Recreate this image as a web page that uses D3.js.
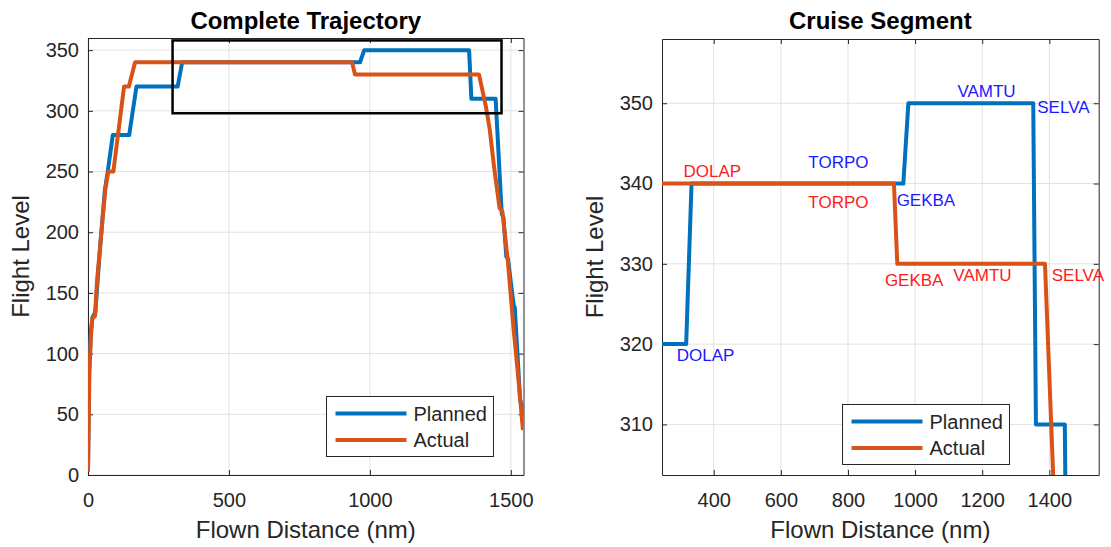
<!DOCTYPE html>
<html>
<head>
<meta charset="utf-8">
<script src="https://cdn.jsdelivr.net/npm/d3@7"></script>
<style>
  html, body { margin: 0; padding: 0; background: #fff; }
  svg { display: block; font-family: "Liberation Sans", Arial, Helvetica, sans-serif; }
</style>
</head>
<body>
<svg id="chart" width="1111" height="547"></svg>
<script>
// Flight profile: planned vs. actual flight level along the flown distance
const plannedDist = [0, 4, 10, 16, 26, 42, 60, 70, 88, 146, 172, 318, 334, 965, 980, 1352, 1360, 1446, 1468, 1474, 1484, 1490, 1510, 1514, 1533, 1545];
const plannedFL   = [3, 85, 118, 130, 134, 185, 235, 250, 280, 280, 320, 320, 340, 340, 350, 350, 310, 310, 215, 212, 180, 178, 140, 138, 62, 52];

const actualDist = [0, 5, 10, 15, 25, 32, 42, 52, 62, 72, 90, 128, 145, 167, 937, 947, 1387, 1412, 1425, 1440, 1460, 1470, 1490, 1510, 1525, 1543];
const actualFL   = [3, 85, 112, 129, 131, 160, 185, 212, 236, 250, 250, 320, 320, 340, 340, 330, 330, 303, 285, 255, 220, 217, 175, 120, 84, 37];

// Waypoint names and where each one is labelled (distance, flight level)
const waypointNames    = ["DOLAP", "TORPO", "GEKBA", "VAMTU", "SELVA"];
const plannedLabelDist = [290, 682, 945, 1126, 1364];
const plannedLabelFL   = [318.6, 342.7, 338.0, 351.5, 349.5];
const actualLabelDist  = [310, 682, 910, 1114, 1407];
const actualLabelFL    = [341.6, 337.7, 328.0, 328.6, 328.6];

// Cruise window outlined on the full trajectory
const cruiseBoxDist = [300, 1467];
const cruiseBoxFL   = [298, 358];

// Axis limits and ticks
const fullDistDomain = [0, 1545];
const fullFLDomain   = [0, 360];
const fullDistTicks  = [0, 500, 1000, 1500];
const fullFLTicks    = [0, 50, 100, 150, 200, 250, 300, 350];

const cruiseDistDomain = [246, 1547];
const cruiseFLDomain   = [303.7, 358];
const cruiseDistTicks  = [400, 600, 800, 1000, 1200, 1400];
const cruiseFLTicks    = [310, 320, 330, 340, 350];

const seriesNames = ["Planned", "Actual"];

const BLUE = "#0072BD", ORANGE = "#D95319";
const AXIS = "#262626", GRID = "#e2e2e2";

const planned = plannedDist.map((d, i) => ({ d, fl: plannedFL[i] }));
const actual  = actualDist.map((d, i) => ({ d, fl: actualFL[i] }));

const svg = d3.select("#chart");
const fmt = d3.format("d");

function panel(cfg) {
  const x = d3.scaleLinear().domain(cfg.xDomain).range([cfg.left, cfg.right]);
  const y = d3.scaleLinear().domain(cfg.yDomain).range([cfg.bottom, cfg.top]);
  const g = svg.append("g");

  const clipId = "clip-" + cfg.id;
  svg.append("defs").append("clipPath").attr("id", clipId)
    .append("rect")
    .attr("x", cfg.left).attr("y", cfg.top)
    .attr("width", cfg.right - cfg.left).attr("height", cfg.bottom - cfg.top);

  // grid
  g.append("g").selectAll("line").data(cfg.xTicks).join("line")
    .attr("x1", d => x(d)).attr("x2", d => x(d))
    .attr("y1", cfg.top).attr("y2", cfg.bottom)
    .attr("stroke", GRID).attr("stroke-width", 1);
  g.append("g").selectAll("line").data(cfg.yTicks).join("line")
    .attr("y1", d => y(d)).attr("y2", d => y(d))
    .attr("x1", cfg.left).attr("x2", cfg.right)
    .attr("stroke", GRID).attr("stroke-width", 1);

  // axes (ticks inward on all four sides)
  const tl = 5;
  const bottomAxis = d3.axisBottom(x).tickValues(cfg.xTicks).tickFormat(fmt).tickSizeInner(-tl).tickSizeOuter(0).tickPadding(tl + 13);
  const topAxis    = d3.axisTop(x).tickValues(cfg.xTicks).tickSizeInner(-tl).tickSizeOuter(0).tickFormat("");
  const leftAxis   = d3.axisLeft(y).tickValues(cfg.yTicks).tickFormat(fmt).tickSizeInner(-tl).tickSizeOuter(0).tickPadding(tl + 4);
  const rightAxis  = d3.axisRight(y).tickValues(cfg.yTicks).tickSizeInner(-tl).tickSizeOuter(0).tickFormat("");

  const styleAxis = sel => {
    sel.selectAll("path").attr("stroke", AXIS).attr("stroke-width", 1);
    sel.selectAll("line").attr("stroke", AXIS).attr("stroke-width", 1);
    sel.selectAll("text").attr("fill", AXIS).style("font-size", "20px")
      .style("font-family", '"Liberation Sans", Arial, sans-serif');
  };
  g.append("g").attr("transform", `translate(0,${cfg.bottom})`).call(bottomAxis).call(styleAxis);
  g.append("g").attr("transform", `translate(0,${cfg.top})`).call(topAxis).call(styleAxis);
  g.append("g").attr("transform", `translate(${cfg.left},0)`).call(leftAxis).call(styleAxis);
  g.append("g").attr("transform", `translate(${cfg.right},0)`).call(rightAxis).call(styleAxis);

  // lines
  const line = d3.line().x(p => x(p.d)).y(p => y(p.fl));
  const lines = g.append("g").attr("clip-path", `url(#${clipId})`);
  lines.append("path").datum(planned).attr("d", line)
    .attr("fill", "none").attr("stroke", BLUE).attr("stroke-width", 4).attr("stroke-linejoin", "round");
  lines.append("path").datum(actual).attr("d", line)
    .attr("fill", "none").attr("stroke", ORANGE).attr("stroke-width", 4).attr("stroke-linejoin", "round");

  // titles and labels
  const cx = (cfg.left + cfg.right) / 2;
  svg.append("text").attr("x", cx).attr("y", 29).attr("text-anchor", "middle")
    .style("font-size", "24px").style("font-weight", "bold").attr("fill", "#000").text(cfg.title);
  svg.append("text").attr("x", cx).attr("y", 538).attr("text-anchor", "middle")
    .style("font-size", "24px").attr("fill", AXIS).text("Flown Distance (nm)");
  svg.append("text")
    .attr("transform", `translate(${cfg.ylabelX},${(cfg.top + cfg.bottom) / 2}) rotate(-90)`)
    .attr("text-anchor", "middle")
    .style("font-size", "24px").attr("fill", AXIS).text("Flight Level");

  return { g, x, y };
}

// ---- Complete trajectory ----
const full = panel({
  id: "full", title: "Complete Trajectory",
  left: 88, right: 523.5, top: 38, bottom: 475, ylabelX: 29,
  xDomain: fullDistDomain, yDomain: fullFLDomain,
  xTicks: fullDistTicks, yTicks: fullFLTicks
});

full.g.append("rect")
  .attr("x", full.x(cruiseBoxDist[0])).attr("y", full.y(cruiseBoxFL[1]))
  .attr("width", full.x(cruiseBoxDist[1]) - full.x(cruiseBoxDist[0]))
  .attr("height", full.y(cruiseBoxFL[0]) - full.y(cruiseBoxFL[1]))
  .attr("fill", "none").attr("stroke", "#000").attr("stroke-width", 2.5);

// ---- Cruise segment ----
const cruise = panel({
  id: "cruise", title: "Cruise Segment",
  left: 662, right: 1098.7, top: 39, bottom: 475, ylabelX: 603,
  xDomain: cruiseDistDomain, yDomain: cruiseFLDomain,
  xTicks: cruiseDistTicks, yTicks: cruiseFLTicks
});

const labelGroup = cruise.g.append("g").style("font-size", "17px");
labelGroup.selectAll("text.planned").data(waypointNames).join("text")
  .attr("class", "planned")
  .attr("x", (n, i) => cruise.x(plannedLabelDist[i]))
  .attr("y", (n, i) => cruise.y(plannedLabelFL[i]))
  .attr("dy", "0.35em").attr("fill", "#1a1aff").text(n => n);
labelGroup.selectAll("text.actual").data(waypointNames).join("text")
  .attr("class", "actual")
  .attr("x", (n, i) => cruise.x(actualLabelDist[i]))
  .attr("y", (n, i) => cruise.y(actualLabelFL[i]))
  .attr("dy", "0.35em").attr("fill", "#ff1a1a").text(n => n);

// ---- Legends ----
function legend(x0, y0) {
  const w = 167, h = 60;
  const lg = svg.append("g").attr("transform", `translate(${x0},${y0})`);
  lg.append("rect").attr("width", w).attr("height", h)
    .attr("fill", "#fff").attr("stroke", AXIS).attr("stroke-width", 1);
  const colors = [BLUE, ORANGE];
  seriesNames.forEach((name, i) => {
    const yy = 17 + i * 26.5;
    lg.append("line").attr("x1", 9).attr("x2", 80).attr("y1", yy).attr("y2", yy)
      .attr("stroke", colors[i]).attr("stroke-width", 4);
    lg.append("text").attr("x", 87).attr("y", yy).attr("dy", "0.35em")
      .style("font-size", "20px").attr("fill", AXIS).text(name);
  });
}
legend(326.5, 396.5);
legend(842.5, 404.5);
</script>
</body>
</html>
